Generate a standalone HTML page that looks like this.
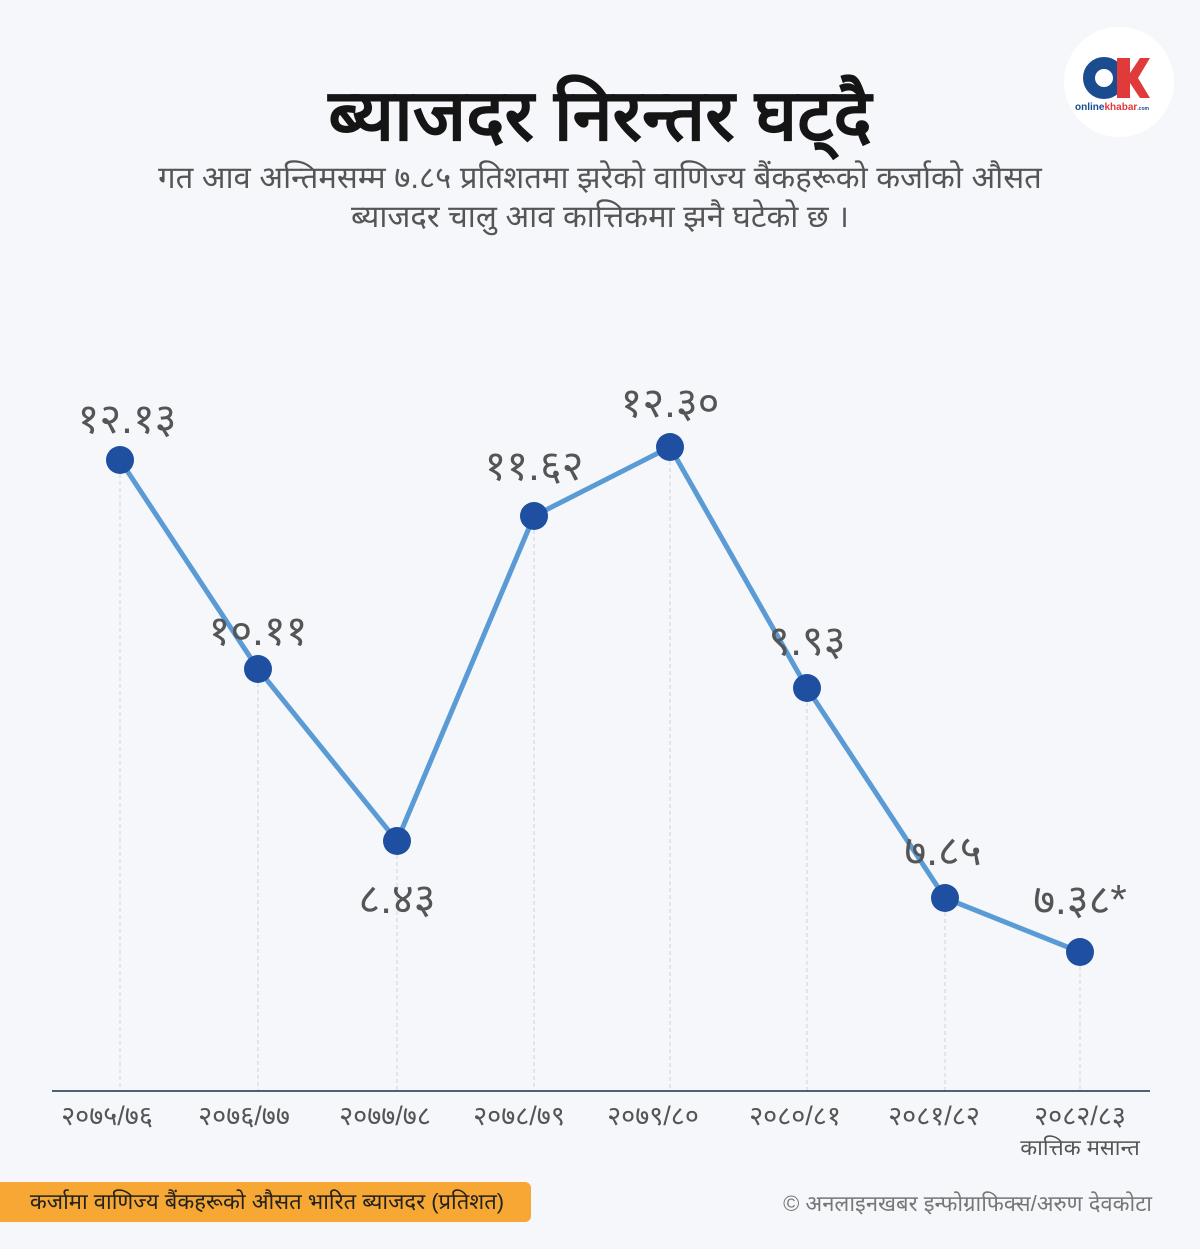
<!DOCTYPE html>
<html><head><meta charset="utf-8"><style>
html,body{margin:0;padding:0;background:#f5f7fa;}
svg{display:block;font-family:"Liberation Sans","DejaVu Sans",sans-serif;}
</style></head><body>
<svg width="1200" height="1249" viewBox="0 0 1200 1249" xmlns="http://www.w3.org/2000/svg">
<rect width="1200" height="1249" fill="#f5f7fa"/>
<circle cx="1119" cy="82" r="55" fill="#ffffff"/>
<circle cx="1104" cy="78" r="15" fill="none" stroke="#1a4c8f" stroke-width="12"/>
<polygon points="1117,58 1130,58 1130,73 1140,58 1150,58 1138,78 1150,98 1140,98 1130,83 1130,98 1117,98" fill="#e03a3a"/>
<text x="1112" y="110" font-size="10" font-weight="bold" fill="#1a4c8f" text-anchor="middle">online<tspan fill="#e03a3a">khabar</tspan><tspan font-size="5">.com</tspan></text>
<text x="600" y="140" font-size="72" font-weight="bold" fill="#151515" text-anchor="middle">ब्याजदर निरन्तर घट्दै</text>
<text x="600" y="188" font-size="31" fill="#555" text-anchor="middle">गत आव अन्तिमसम्म ७.८५ प्रतिशतमा झरेको वाणिज्य बैंकहरूको कर्जाको औसत</text>
<text x="600" y="227" font-size="31" fill="#555" text-anchor="middle">ब्याजदर चालु आव कात्तिकमा झनै घटेको छ ।</text>
<g stroke="#cfd3d9" stroke-width="1" stroke-dasharray="4,3">
<line x1="120" y1="460" x2="120" y2="1091"/>
<line x1="258" y1="669" x2="258" y2="1091"/>
<line x1="397" y1="841" x2="397" y2="1091"/>
<line x1="534" y1="516" x2="534" y2="1091"/>
<line x1="670" y1="447" x2="670" y2="1091"/>
<line x1="807" y1="688" x2="807" y2="1091"/>
<line x1="945" y1="898" x2="945" y2="1091"/>
<line x1="1080" y1="952" x2="1080" y2="1091"/>
</g>
<line x1="52" y1="1091" x2="1150" y2="1091" stroke="#1b2f4e" stroke-width="1.5"/>
<polyline points="120,460 258,669 397,841 534,516 670,447 807,688 945,898 1080,952" fill="none" stroke="#5b9bd5" stroke-width="5" stroke-linejoin="round"/>
<g fill="#1f4fa0">
<circle cx="120" cy="460" r="14"/><circle cx="258" cy="669" r="14"/><circle cx="397" cy="841" r="14"/><circle cx="534" cy="516" r="14"/><circle cx="670" cy="447" r="14"/><circle cx="807" cy="688" r="14"/><circle cx="945" cy="898" r="14"/><circle cx="1080" cy="952" r="14"/>
</g>
<g font-size="42" fill="#555" text-anchor="middle">
<text x="127" y="433">१२.१३</text>
<text x="258" y="645">१०.११</text>
<text x="397" y="913">८.४३</text>
<text x="534" y="480">११.६२</text>
<text x="670" y="417">१२.३०</text>
<text x="807" y="655">९.९३</text>
<text x="943" y="865">७.८५</text>
<text x="1080" y="914">७.३८*</text>
</g>
<g font-size="27" fill="#555" text-anchor="middle">
<text x="107" y="1125">२०७५/७६</text>
<text x="244" y="1125">२०७६/७७</text>
<text x="385" y="1125">२०७७/७८</text>
<text x="519" y="1125">२०७८/७९</text>
<text x="653" y="1125">२०७९/८०</text>
<text x="795" y="1125">२०८०/८१</text>
<text x="934" y="1125">२०८१/८२</text>
<text x="1080" y="1125">२०८२/८३</text>
<text x="1080" y="1155" font-size="22">कात्तिक मसान्त</text>
</g>
<rect x="-10" y="1182" width="541" height="40" rx="6" fill="#f7a733"/>
<text x="267" y="1209" font-size="22" fill="#222" text-anchor="middle">कर्जामा वाणिज्य बैंकहरूको औसत भारित ब्याजदर  (प्रतिशत)</text>
<text x="1152" y="1211" font-size="22" fill="#777" text-anchor="end">© अनलाइनखबर इन्फोग्राफिक्स/अरुण देवकोटा</text>
</svg>
</body></html>
